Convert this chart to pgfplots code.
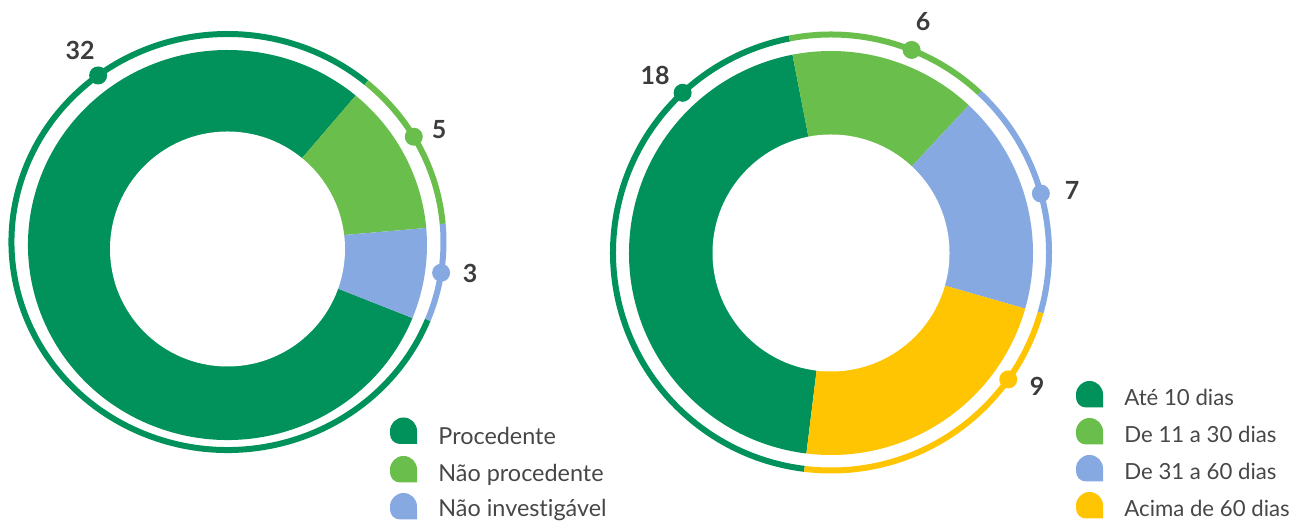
\documentclass[border=0pt]{standalone}
\usepackage{pgfplots}
\pgfplotsset{compat=1.18}
\usepackage{pgfplotstable}
\usepackage{fontspec}
\setmainfont{Lato}[Ligatures=NoCommon]
\definecolor{cdg}{HTML}{00925A}
\definecolor{clg}{HTML}{6ABE4C}
\definecolor{cbl}{HTML}{86A9E1}
\definecolor{cyl}{HTML}{FFC502}
\definecolor{cnum}{HTML}{3C3C3C}
\definecolor{cleg}{HTML}{474747}

% value, colour, angle of the dot on the outer ring, label position (px, y down)
\pgfplotstableread{
val col dot  lx  ly
32  cdg 126.8 80  50
5   clg 30.4  439 130
3   cbl -8.5  470 273
}\leftdata
\pgfplotstableread{
val col dot  lx   ly
18  cdg 132.9 655  75
6   clg 68.3  923  22
7   cbl 15.7  1072 190
9   cyl -35.6 1037 386
}\rightdata

\pgfkeys{/donut/.cd,
  cx/.store in=\dcx, cy/.store in=\dcy, rx/.store in=\drx, ry/.store in=\dry,
  hx/.store in=\dhx, hy/.store in=\dhy, hr/.store in=\dhr,
  gx/.store in=\dgx, gy/.store in=\dgy, grx/.store in=\dgrx, gry/.store in=\dgry,
  start/.store in=\dstart}

\newcommand\numfont{\bfseries\fontsize{12.5}{15}\selectfont}
\newcommand\legfontL{\fontsize{11.7}{13}\selectfont}
\newcommand\legfontR{\fontsize{11.1}{13}\selectfont}

% one unit = 1px = 0.5pt
\newcommand\donut[2]{%
  \begingroup
  \pgfkeys{/donut/.cd,#2}%
  \pgfplotstablegetrowsof{#1}\pgfmathtruncatemacro\nlast{\pgfplotsretval-1}%
  \gdef\dtot{0}%
  \foreach \i in {0,...,\nlast}{%
    \pgfplotstablegetelem{\i}{val}\of{#1}%
    \pgfmathsetmacro\tmp{\dtot+\pgfplotsretval}\xdef\dtot{\tmp}}%
  \xdef\dang{\dstart}%
  \pgfmathsetmacro\cY{523-\dcy}%
  \pgfmathsetmacro\gY{523-\dgy}%
  \pgfmathsetmacro\rxpt{\drx*0.5}\pgfmathsetmacro\rypt{\dry*0.5}%
  \pgfmathsetmacro\grxpt{\dgrx*0.5}\pgfmathsetmacro\grypt{\dgry*0.5}%
  \foreach \i in {0,...,\nlast}{%
    \pgfplotstablegetelem{\i}{val}\of{#1}\let\dval\pgfplotsretval
    \pgfplotstablegetelem{\i}{col}\of{#1}\let\dcol\pgfplotsretval
    \pgfplotstablegetelem{\i}{dot}\of{#1}\let\ddot\pgfplotsretval
    \pgfplotstablegetelem{\i}{lx}\of{#1}\let\dlx\pgfplotsretval
    \pgfplotstablegetelem{\i}{ly}\of{#1}\let\dly\pgfplotsretval
    \pgfmathsetmacro\angA{\dang}%
    \pgfmathsetmacro\angB{\dang-\dval/\dtot*360}%
    \xdef\dang{\angB}%
    \pgfmathsetmacro\px{\dcx+\drx*cos(\angA)}%
    \pgfmathsetmacro\py{\cY+\dry*sin(\angA)}%
    \fill[fill=\dcol] (axis cs:\dcx,\cY) -- (axis cs:\px,\py)
      arc[start angle=\angA, end angle=\angB, x radius=\rxpt pt, y radius=\rypt pt] -- cycle;
    \pgfmathsetmacro\px{\dgx+\dgrx*cos(\angA)}%
    \pgfmathsetmacro\py{\gY+\dgry*sin(\angA)}%
    \draw[draw=\dcol, line width=3pt] (axis cs:\px,\py)
      arc[start angle=\angA, end angle=\angB, x radius=\grxpt pt, y radius=\grypt pt];
    \pgfmathsetmacro\px{\dgx+\dgrx*cos(\ddot)}%
    \pgfmathsetmacro\py{\gY+\dgry*sin(\ddot)}%
    \fill[fill=\dcol] (axis cs:\px,\py) circle[radius=4.5pt];
    \pgfmathsetmacro\py{523-\dly}%
    \node[text=cnum, font=\numfont, inner sep=0pt] at (axis cs:\dlx,\py) {\dval};
  }%
  \pgfmathsetmacro\hY{523-\dhy}%
  \pgfmathsetmacro\hrpt{\dhr*0.5}%
  \fill[white] (axis cs:\dhx,\hY) circle[radius=\hrpt pt];
  \endgroup}

\newcommand\legmark[3]{%
  \begin{scope}[shift={(axis cs:#2,#3)}]
    \fill[fill=#1] (6.75pt,-6.5pt) -- (6.75pt,0pt)
      arc[start angle=0, end angle=180, radius=6.75pt] -- (-6.75pt,-1.5pt)
      arc[start angle=180, end angle=270, radius=5pt] -- cycle;
  \end{scope}}

\begin{document}
\begin{tikzpicture}
\begin{axis}[x=0.5pt, y=0.5pt, xmin=0, xmax=1306, ymin=0, ymax=523,
  hide axis, clip=false]
\pgfplotsextra{\coordinate (bbsw) at (axis cs:0,0);
  \coordinate (bbne) at (axis cs:1306,523);}
\pgfplotsextra{\donut{\leftdata}{cx=227.5, cy=245, rx=199.5, ry=195,
  hx=227.5, hy=249, hr=117.5, gx=227.5, gy=242, grx=216, gry=208, start=-22}}
\pgfplotsextra{\donut{\rightdata}{cx=831, cy=253, rx=202, ry=202,
  hx=831, hy=253, hr=118.5, gx=831, gy=252.5, grx=218, gry=218, start=-97}}
\pgfplotsextra{%
  \legmark{cdg}{403.5}{92}
  \legmark{clg}{403.5}{53.5}
  \legmark{cbl}{403.5}{16.5}
  \node[anchor=base west, inner sep=0pt, text=cleg, font=\legfontL] at (axis cs:438,78) {Procedente};
  \node[anchor=base west, inner sep=0pt, text=cleg, font=\legfontL] at (axis cs:438,41.5) {Não procedente};
  \node[anchor=base west, inner sep=0pt, text=cleg, font=\legfontL] at (axis cs:438,6) {Não investigável};
  \legmark{cdg}{1089.5}{128.5}
  \legmark{clg}{1089.5}{91.5}
  \legmark{cbl}{1089.5}{54.5}
  \legmark{cyl}{1089.5}{17.5}
  \node[anchor=base west, inner sep=0pt, text=cleg, font=\legfontR] at (axis cs:1124,117) {Até 10 dias};
  \node[anchor=base west, inner sep=0pt, text=cleg, font=\legfontR] at (axis cs:1124,80.3) {De 11 a 30 dias};
  \node[anchor=base west, inner sep=0pt, text=cleg, font=\legfontR] at (axis cs:1124,43.7) {De 31 a 60 dias};
  \node[anchor=base west, inner sep=0pt, text=cleg, font=\legfontR] at (axis cs:1124,6.3) {Acima de 60 dias};
}
\end{axis}
\pgfresetboundingbox
\path (bbsw) rectangle (bbne);
\end{tikzpicture}
\end{document}
